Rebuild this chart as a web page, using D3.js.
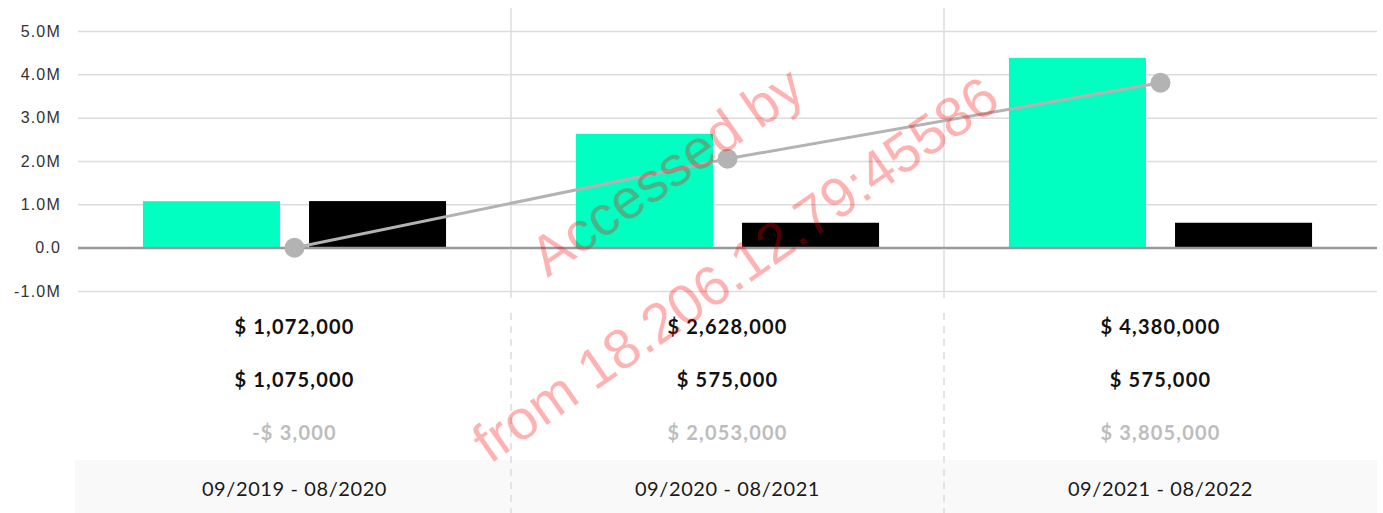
<!DOCTYPE html>
<html>
<head>
<meta charset="utf-8">
<script src="https://cdn.jsdelivr.net/npm/d3@7"></script>
<style>
  html, body { margin: 0; padding: 0; background: #fff; }
  svg { display: block; font-family: Lato, "Open Sans", sans-serif; }
</style>
</head>
<body>
<div id="main"></div>
<script>
var periods = ["09/2019 - 08/2020", "09/2020 - 08/2021", "09/2021 - 08/2022"];
var income = [1072000, 2628000, 4380000];
var expense = [1075000, 575000, 575000];
var net = [-3000, 2053000, 3805000];
var yTicks = [-1000000, 0, 1000000, 2000000, 3000000, 4000000, 5000000];
var seriesKeys = ["income", "expense"];

var ctx = {
    w: 1383,
    h: 513,
    left: 78,
    right: 1377,
    green: "#00ffc1",
    black: "#000000",
    lineColor: "#b3b3b3"
};

var money = function(v) {
    var s = d3.format(",")(Math.abs(v));
    return (v < 0 ? "-$ " : "$ ") + s;
};

var createViz = function() {
    var svg = d3.select("#main").append("svg")
        .attr("width", ctx.w)
        .attr("height", ctx.h);

    var x = d3.scaleBand().domain(periods).range([ctx.left, ctx.right]);
    var bw = x.bandwidth();
    var xs = d3.scaleBand().domain(seriesKeys)
        .range([bw * 0.15, bw * 0.85]).paddingInner(0.175);
    var y = d3.scaleLinear().domain([-1000000, 5000000]).range([291, 31]);

    // table background for period labels
    svg.append("rect")
        .attr("x", 75).attr("y", 460)
        .attr("width", ctx.right - 75).attr("height", 53)
        .attr("fill", "#f9f9f9");

    // grid + y labels
    var yAxis = svg.append("g")
        .attr("transform", "translate(" + ctx.left + ",0)")
        .call(d3.axisLeft(y).tickValues(yTicks)
            .tickSize(-(ctx.right - ctx.left))
            .tickPadding(17)
            .tickFormat(function(v) { return v === 0 ? "0.0" : (v / 1e6).toFixed(1) + "M"; }));
    yAxis.select(".domain").remove();
    yAxis.selectAll(".tick line")
        .attr("stroke", function(d) { return d === 0 ? "#999" : "#dcdcdc"; })
        .attr("stroke-width", function(d) { return d === 0 ? 2 : 1.5; });
    yAxis.selectAll(".tick text")
        .attr("fill", "#333")
        .style("font-size", "16px")
        .style("letter-spacing", "1.2px");

    // vertical separators
    var seps = periods.slice(1);
    svg.selectAll(".sep").data(seps).enter().append("line")
        .attr("x1", function(d) { return x(d); }).attr("x2", function(d) { return x(d); })
        .attr("y1", 8).attr("y2", 298)
        .attr("stroke", "#dcdcdc").attr("stroke-width", 1.5);
    svg.selectAll(".sepd").data(seps).enter().append("line")
        .attr("x1", function(d) { return x(d); }).attr("x2", function(d) { return x(d); })
        .attr("y1", 313).attr("y2", 513)
        .attr("stroke", "#dcdcdc").attr("stroke-width", 1.5)
        .attr("stroke-dasharray", "7,6");

    // bars
    var barData = [];
    periods.forEach(function(p, i) {
        barData.push({p: p, k: "income", v: income[i]});
        barData.push({p: p, k: "expense", v: expense[i]});
    });
    svg.selectAll(".bar").data(barData).enter().append("rect")
        .attr("x", function(d) { return x(d.p) + xs(d.k); })
        .attr("width", xs.bandwidth())
        .attr("y", function(d) { return y(Math.max(0, d.v)); })
        .attr("height", function(d) { return Math.abs(y(d.v) - y(0)); })
        .attr("fill", function(d) { return d.k === "income" ? ctx.green : ctx.black; });

    // redraw zero line above bars
    svg.append("line")
        .attr("x1", ctx.left).attr("x2", ctx.right)
        .attr("y1", y(0)).attr("y2", y(0))
        .attr("stroke", "#999").attr("stroke-width", 2);

    // net line
    var cx = function(d, i) { return x(periods[i]) + bw / 2; };
    svg.append("path")
        .datum(net)
        .attr("d", d3.line().x(cx).y(function(d) { return y(d); }))
        .attr("fill", "none")
        .attr("stroke", ctx.lineColor)
        .attr("stroke-width", 3);
    svg.selectAll(".dot").data(net).enter().append("circle")
        .attr("cx", cx)
        .attr("cy", function(d) { return y(d); })
        .attr("r", 10)
        .attr("fill", ctx.lineColor);

    // table rows
    var rows = [
        {vals: income, y: 327, color: "#111"},
        {vals: expense, y: 380, color: "#111"},
        {vals: net, y: 433, color: "#bdbdbd"}
    ];
    rows.forEach(function(r) {
        svg.selectAll(null).data(r.vals).enter().append("text")
            .attr("x", cx)
            .attr("y", r.y)
            .attr("dy", "0.35em")
            .attr("text-anchor", "middle")
            .attr("fill", r.color)
            .style("font-size", "20px")
            .style("font-weight", 700)
            .style("letter-spacing", "1.2px")
            .text(money);
    });
    svg.selectAll(".period").data(periods).enter().append("text")
        .attr("x", function(d) { return x(d) + bw / 2; })
        .attr("y", 489)
        .attr("dy", "0.35em")
        .attr("text-anchor", "middle")
        .attr("fill", "#1a1a1a")
        .style("font-size", "20px")
        .style("letter-spacing", "0.6px")
        .text(function(d) { return d; });

    // watermark
    var wm = svg.append("g")
        .attr("transform", "translate(712,236) rotate(-35)")
        .attr("fill", "#ff0000")
        .attr("fill-opacity", 0.3)
        .style("font-family", "'Liberation Sans', Arial, sans-serif")
        .style("font-size", "56px")
        .attr("text-anchor", "middle");
    wm.append("text").attr("y", -60).text("Accessed by");
    wm.append("text").attr("y", 60).text("from 18.206.12.79:45586");
};

createViz();
</script>
</body>
</html>
